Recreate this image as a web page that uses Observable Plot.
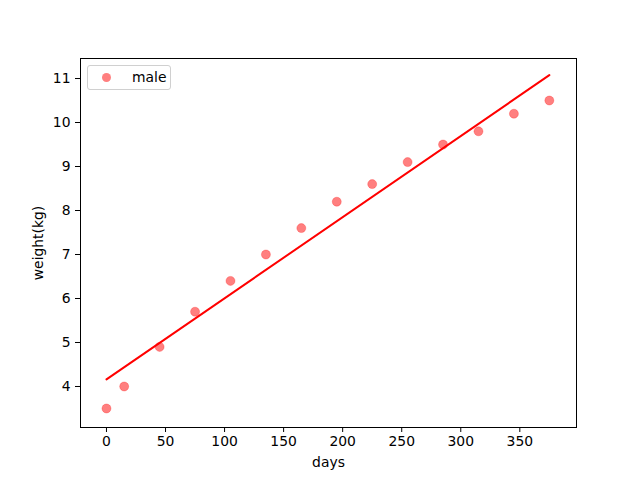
<!DOCTYPE html>
<html>
<head>
<meta charset="utf-8">
<script src="https://cdn.jsdelivr.net/npm/d3@7"></script>
<script src="https://cdn.jsdelivr.net/npm/@observablehq/plot@0.6"></script>
<style>
  html, body { margin: 0; padding: 0; background: #fff; }
  #wrap { position: relative; width: 640px; height: 480px; }
  #legend {
    position: absolute; left: 87px; top: 65px; width: 84px; height: 25px;
    border: 1px solid #d0d0d0; border-radius: 3px; background: rgba(255,255,255,0.8);
    font-family: "DejaVu Sans", sans-serif; font-size: 13.9px; color: #000;
    box-sizing: border-box;
  }
  #legend .dot {
    position: absolute; left: 14px; top: 7px; width: 9px; height: 9px; border-radius: 50%;
    background: rgba(255,0,0,0.5);
  }
  #legend .txt { position: absolute; left: 44px; top: 3px; }
</style>
</head>
<body>
<div id="wrap">
  <div id="chart"></div>
  <div id="legend"><span class="dot"></span><span class="txt">male</span></div>
</div>
<script>
const days = [0, 15, 45, 75, 105, 135, 165, 195, 225, 255, 285, 315, 345, 375];
const weights = [3.5, 4.0, 4.9, 5.7, 6.4, 7.0, 7.6, 8.2, 8.6, 9.1, 9.5, 9.8, 10.2, 10.5];
const xTicks = [0, 50, 100, 150, 200, 250, 300, 350];
const yTicks = [4, 5, 6, 7, 8, 9, 10, 11];

const data = days.map((d, i) => ({days: d, weight: weights[i]}));

const chart = Plot.plot({
  width: 640,
  height: 480,
  marginLeft: 80,
  marginRight: 64,
  marginTop: 58,
  marginBottom: 53,
  style: {fontFamily: "DejaVu Sans, sans-serif", fontSize: "13.9px", color: "#000", background: "#fff"},
  x: {domain: [-22, 398]},
  y: {domain: [3.068, 11.455]},
  marks: [
    Plot.axisX({ticks: xTicks, tickSize: 5, tickPadding: 4, label: "days", labelAnchor: "center", labelArrow: "none", labelOffset: 39, fontSize: 13.9}),
    Plot.axisY({ticks: yTicks, tickSize: 5, tickPadding: 5, label: "weight(kg)", labelAnchor: "center", labelArrow: "none", labelOffset: 47, fontSize: 13.9}),
    Plot.dot(data, {x: "days", y: "weight", r: 4.5, fill: "red", fillOpacity: 0.5, stroke: "red", strokeOpacity: 0.5, strokeWidth: 0.5}),
    Plot.linearRegressionY(data, {x: "days", y: "weight", stroke: "red", strokeWidth: 2, ci: 0}),
    Plot.frame({stroke: "black", strokeWidth: 1})
  ]
});
document.getElementById("chart").appendChild(chart);
</script>
</body>
</html>
